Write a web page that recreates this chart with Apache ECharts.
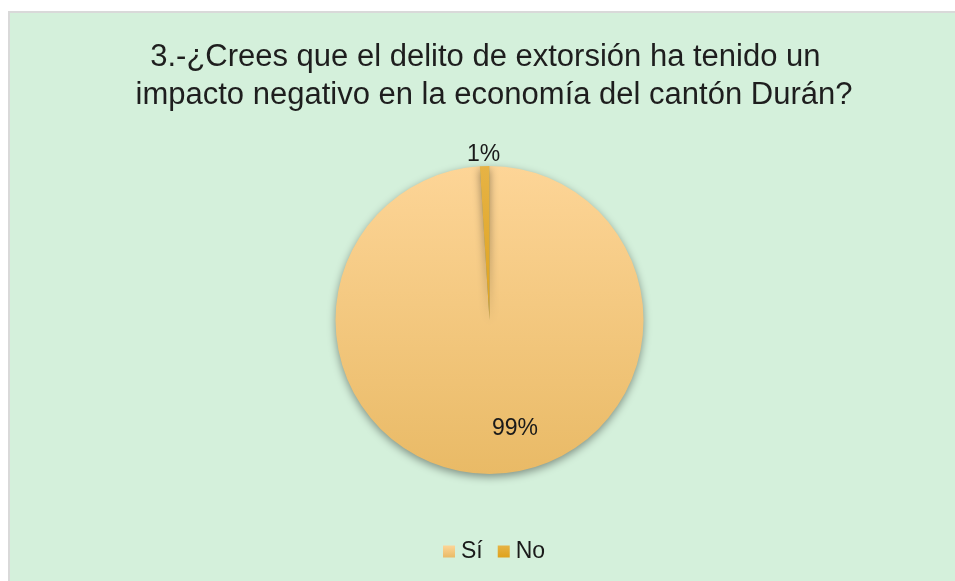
<!DOCTYPE html>
<html>
<head>
<meta charset="utf-8">
<script src="https://cdn.jsdelivr.net/npm/echarts@6/dist/echarts.min.js"></script>
<style>
html,body{margin:0;padding:0;background:#fff;}
#chart{width:955px;height:581px;}
</style>
</head>
<body>
<div id="chart"></div>
<script>
const titleText = '3.-¿Crees que el delito de extorsión ha tenido un  \nimpacto negativo en la economía del cantón Durán?';
const categories = ['Sí', 'No'];
const values = [99, 1];

const FONT = '"Liberation Sans", Arial, sans-serif';
const colors = [
  new echarts.graphic.LinearGradient(0, 0, 0, 1, [
    {offset: 0, color: '#FDD597'},
    {offset: 1, color: '#E9BA66'}
  ]),
  new echarts.graphic.LinearGradient(0, 0, 0, 1, [
    {offset: 0, color: '#E6B345'},
    {offset: 1, color: '#DFA21C'}
  ])
];

const chart = echarts.init(document.getElementById('chart'), null, {renderer: 'canvas'});
chart.setOption({
  animation: false,
  graphic: [{
    type: 'rect',
    z: -10,
    silent: true,
    shape: {x: 9, y: 12, width: 960, height: 590},
    style: {fill: '#D4F0DB', stroke: '#D9D9D9', lineWidth: 2}
  }],
  title: {
    text: titleText,
    left: 489,
    textAlign: 'center',
    top: 33,
    textStyle: {
      fontFamily: FONT,
      fontSize: 31,
      fontWeight: 'normal',
      color: '#1e1e1e',
      lineHeight: 38,
      align: 'center'
    }
  },
  legend: {
    data: categories,
    bottom: 13,
    left: 438,
    icon: 'rect',
    itemWidth: 12,
    itemHeight: 12,
    itemGap: 15,
    textStyle: {fontFamily: FONT, fontSize: 23, color: '#1a1a1a', padding: [0, 0, 0, 1]}
  },
  series: [{
    type: 'pie',
    center: [489.5, 320],
    radius: 154,
    startAngle: 90,
    clockwise: true,
    data: categories.map((c, i) => ({
      name: c,
      value: values[i],
      itemStyle: {color: colors[i]},
      label: {position: i === 0 ? 'inside' : 'outside'}
    })),
    itemStyle: {
      shadowBlur: 8,
      shadowColor: 'rgba(0,0,0,0.4)',
      shadowOffsetY: 3
    },
    label: {
      formatter: '{d}%',
      fontFamily: FONT,
      fontSize: 23,
      color: '#1a1a1a'
    },
    labelLine: {show: false, length: 0, length2: 0},
    labelLayout: function (p) {
      if (p.dataIndex === 0) {
        return {dx: 23, dy: 29};
      }
      return {align: 'center', verticalAlign: 'bottom', dx: 4, dy: 0};
    },
    emphasis: {disabled: true}
  }]
});
</script>
</body>
</html>
